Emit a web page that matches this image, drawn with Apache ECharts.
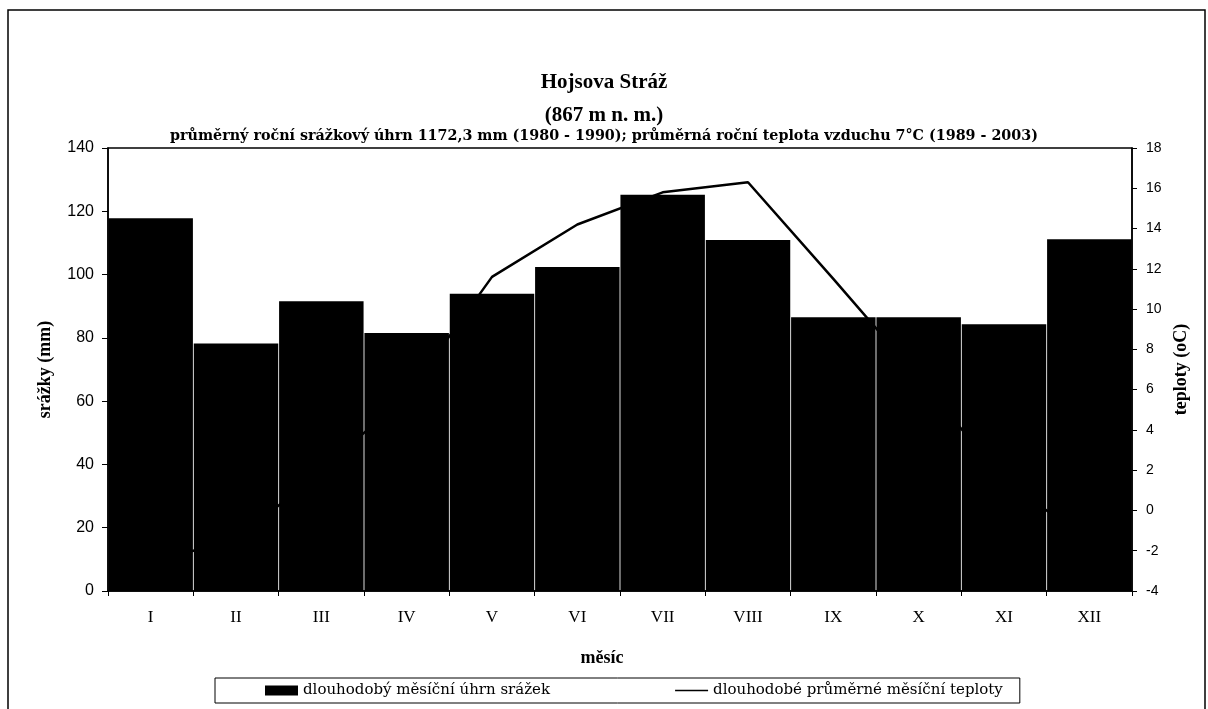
<!DOCTYPE html>
<html>
<head>
<meta charset="utf-8">
<script src="https://cdn.jsdelivr.net/npm/echarts@6/dist/echarts.min.js"></script>
<style>
  html, body { margin: 0; padding: 0; background: #fff; }
  #chart { width: 1208px; height: 709px; }
</style>
</head>
<body>
<div id="chart"></div>
<script>
// Hojsova Stráž – long-term monthly precipitation and air temperature
const months = ['I', 'II', 'III', 'IV', 'V', 'VI', 'VII', 'VIII', 'IX', 'X', 'XI', 'XII'];
const precipitation = [117.8, 78.2, 91.6, 81.5, 93.9, 102.4, 125.2, 110.9, 86.5, 86.5, 84.3, 111.2];
const temperature = [-2.5, -1.5, 2.0, 5.7, 11.6, 14.2, 15.8, 16.3, 11.5, 6.6, 1.5, -1.5];

const titleText = 'Hojsova Stráž';
const altitudeText = '(867 m n. m.)';
const subtitleText = 'průměrný roční srážkový úhrn 1172,3 mm (1980 - 1990); průměrná roční teplota vzduchu 7°C (1989 - 2003)';
const barName = 'dlouhodobý měsíční úhrn srážek';
const lineName = 'dlouhodobé průměrné měsíční teploty';

const serif = '"Liberation Serif", "Times New Roman", serif';
const wideSerif = '"DejaVu Serif", "Liberation Serif", serif';
const sans = '"Liberation Sans", Arial, sans-serif';

const chart = echarts.init(document.getElementById('chart'));
chart.setOption({
  backgroundColor: '#ffffff',
  animation: false,
  title: [
    { text: titleText, left: 'center', top: 67,
      textStyle: { fontFamily: serif, fontSize: 21, fontWeight: 'bold', color: '#000' } },
    { text: altitudeText, left: 'center', top: 100,
      textStyle: { fontFamily: serif, fontSize: 21, fontWeight: 'bold', color: '#000' } },
    { text: subtitleText, left: 'center', top: 124,
      textStyle: { fontFamily: wideSerif, fontSize: 14.3, fontWeight: 'bold', color: '#000' } }
  ],
  graphic: [
    { type: 'rect', shape: { x: 8, y: 10, width: 1197, height: 712 },
      style: { fill: 'none', stroke: '#000', lineWidth: 1.5 }, silent: true }
  ],
  grid: { left: 108, right: 76, top: 148, bottom: 118, show: true, borderColor: '#000', borderWidth: 1.5 },
  legend: {
    left: 215, top: 678,
    padding: [5, 17, 5, 50],
    itemGap: 125,
    borderColor: '#000', borderWidth: 1,
    itemWidth: 33, itemHeight: 10,
    symbolKeepAspect: true,
    textStyle: { fontFamily: wideSerif, fontSize: 15, color: '#000' },
    data: [
      { name: barName, icon: 'rect' },
      { name: lineName, icon: 'path://M0,0 H33 V1.6 H0 Z' }
    ]
  },
  xAxis: {
    type: 'category',
    data: months,
    name: 'měsíc',
    nameLocation: 'middle',
    nameGap: 58,
    nameTextStyle: { fontFamily: serif, fontSize: 18, fontWeight: 'bold', color: '#000', padding: [0, 36, 0, 0] },
    axisLine: { lineStyle: { color: '#000', width: 1.5 } },
    axisTick: { show: true, alignWithLabel: false, length: 5, lineStyle: { color: '#000' } },
    axisLabel: { fontFamily: serif, fontSize: 17, color: '#000', margin: 18 }
  },
  yAxis: [
    {
      type: 'value', min: 0, max: 140, interval: 20,
      name: 'srážky (mm)', nameLocation: 'middle', nameGap: 54, nameRotate: 90,
      nameTextStyle: { fontFamily: serif, fontSize: 18, fontWeight: 'bold', color: '#000' },
      axisLine: { show: true, lineStyle: { color: '#000', width: 1.5 } },
      axisTick: { show: true, length: 6, lineStyle: { color: '#000' } },
      axisLabel: { fontFamily: sans, fontSize: 16, color: '#000', margin: 14 },
      splitLine: { show: false }
    },
    {
      type: 'value', min: -4, max: 18, interval: 2,
      name: 'teploty (oC)', nameLocation: 'middle', nameGap: 40, nameRotate: 90,
      nameTextStyle: { fontFamily: serif, fontSize: 18, fontWeight: 'bold', color: '#000' },
      axisLine: { show: true, lineStyle: { color: '#000', width: 1.5 } },
      axisTick: { show: true, length: 5, lineStyle: { color: '#000' } },
      axisLabel: { fontFamily: sans, fontSize: 14, color: '#000', margin: 14 },
      splitLine: { show: false }
    }
  ],
  series: [
    {
      name: barName, type: 'bar', data: precipitation, yAxisIndex: 0,
      barCategoryGap: '1%',
      itemStyle: { color: '#000' }
    },
    {
      name: lineName, type: 'line', data: temperature, yAxisIndex: 1,
      symbol: 'none', z: 3,
      lineStyle: { color: '#000', width: 2.5 },
      itemStyle: { color: '#000' }
    }
  ]
});
</script>
</body>
</html>
